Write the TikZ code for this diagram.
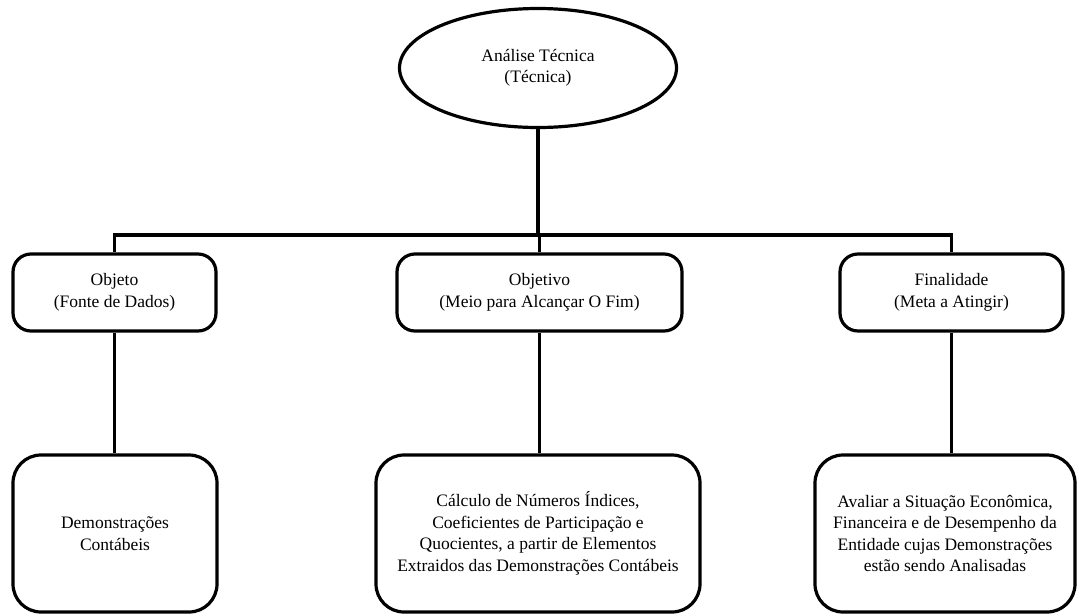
\documentclass[tikz,border=0pt]{standalone}
\usepackage{fontspec}
\setmainfont{Liberation Serif}
\usetikzlibrary{shapes.geometric}

\begin{document}
\begin{tikzpicture}[
    x=1pt, y=-1pt,
    font=\fontsize{17.5}{21.5}\selectfont,
    link/.style={line width=3.2pt, draw=black},
    topnode/.style={
        ellipse,
        draw=black,
        line width=3.2pt,
        minimum width=277pt,
        minimum height=119pt,
        align=center,
        inner sep=0pt
    },
    headbox/.style={
        rectangle,
        rounded corners=18pt,
        draw=black,
        line width=3.2pt,
        minimum height=77pt,
        align=center,
        inner sep=2pt
    },
    leafbox/.style={
        rectangle,
        rounded corners=28pt,
        draw=black,
        line width=3.2pt,
        minimum height=157pt,
        align=center,
        inner sep=2pt
    }
]
\useasboundingbox (0,0) rectangle (1077,614);

% =========================================================
% Top
% =========================================================
\node[topnode] (tecnica) at (538,68) {Análise Técnica\\(Técnica)};

\coordinate (bus) at (538,235);

% =========================================================
% Second row
% =========================================================
\node[headbox, minimum width=203pt] (objeto) at (114.5,292.5) {Objeto\\(Fonte de Dados)};
\node[headbox, minimum width=285pt] (objetivo) at (539.5,292.5) {Objetivo\\(Meio para Alcançar O Fim)};
\node[headbox, minimum width=223pt] (finalidade) at (951.5,292.5) {Finalidade\\(Meta a Atingir)};

% =========================================================
% Third row
% =========================================================
\node[leafbox, minimum width=204pt] (demonstr) at (115,533.5) {Demonstrações\\Contábeis};
\node[leafbox, minimum width=324pt] (calculo) at (538,533.5) {Cálculo de Números Índices,\\Coeficientes de Participação e\\Quocientes, a partir de Elementos\\Extraidos das Demonstrações Contábeis};
\node[leafbox, minimum width=260pt] (avaliar) at (945,533.5) {Avaliar a Situação Econômica,\\Financeira e de Desempenho da\\Entidade cujas Demonstrações\\estão sendo Analisadas};

% Connectors
\draw[link] (tecnica.south) -- (bus);
\draw[link] (objeto.north) -- (objeto.north |- bus) -- (finalidade.north |- bus) -- (finalidade.north);
\draw[link] (objetivo.north) -- (objetivo.north |- bus);
\draw[link] (objeto.south) -- (objeto.south |- demonstr.north);
\draw[link] (objetivo.south) -- (objetivo.south |- calculo.north);
\draw[link] (finalidade.south) -- (finalidade.south |- avaliar.north);

\end{tikzpicture}
\end{document}
